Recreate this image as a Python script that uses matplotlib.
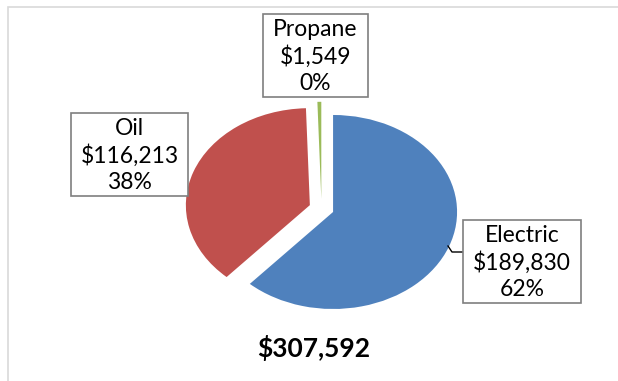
import matplotlib
matplotlib.use("Agg")
import matplotlib.pyplot as plt
from matplotlib.patches import Rectangle
from matplotlib.lines import Line2D

categories = ["Electric", "Oil", "Propane"]
values = [189830, 116213, 1549]
pct_labels = ["62%", "38%", "0%"]
colors = ["#4F81BD", "#C0504D", "#9BBB59"]

W, H = 618, 381
fig = plt.figure(figsize=(W / 100, H / 100), dpi=100)
plt.rcParams['font.family'] = ['Lato', 'DejaVu Sans']

def fx(x):
    return x / W

def fy(y):
    return 1 - y / H

# pie geometry (pixels)
cx, cy, rx, ry = 321.5, 208.5, 124.0, 97.0
ax = fig.add_axes([0, 0, 1, 1])
ax.pie(values, colors=colors, startangle=90, counterclock=False,
       explode=[0.1, 0.1, 0.1], radius=1, center=(0, 0),
       wedgeprops=dict(linewidth=0))
ax.set_aspect('auto')
ax.set_xlim(-cx / rx, (W - cx) / rx)
ax.set_ylim(-(H - cy) / ry, cy / ry)
ax.axis('off')

# chart frame
fig.patches.append(Rectangle((fx(8), fy(400)), fx(640) - fx(8), fy(7) - fy(400),
                             transform=fig.transFigure, fill=False,
                             edgecolor="#D9D9D9", linewidth=1.2, zorder=0))

# label boxes (left, top, right, bottom) in pixels
boxes = [(463, 220, 581, 303), (71, 113, 188, 196), (263, 14, 368, 97)]
for cat, val, pct, (l, t, r, b) in zip(categories, values, pct_labels, boxes):
    fig.patches.append(Rectangle((fx(l), fy(b)), fx(r) - fx(l), fy(t) - fy(b),
                                 transform=fig.transFigure, facecolor="white",
                                 edgecolor="#7F7F7F", linewidth=1.2, zorder=5))
    fig.text(fx((l + r) / 2), fy((t + b) / 2 + 1), f"{cat}\n${val:,}\n{pct}",
             ha="center", va="center", fontsize=16.5, linespacing=1.3,
             color="#000000", zorder=6)

# leader line for Electric
fig.lines.append(Line2D([fx(463), fx(452), fx(448)], [fy(252), fy(252), fy(246)],
                        transform=fig.transFigure, color="#000000", linewidth=1))

total = sum(values)
fig.text(fx(314), fy(348), f"${total:,}", ha="center", va="center",
         fontsize=19, fontweight="bold", color="#000000")

fig.savefig("out.png", dpi=100)
